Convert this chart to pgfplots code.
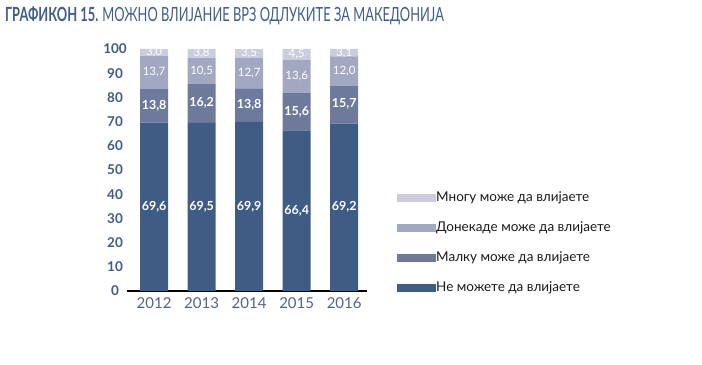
\documentclass[border=0pt]{standalone}
\usepackage{pgfplots}
\pgfplotsset{compat=1.18}
\usepackage{fontspec}
\setmainfont{Lato}
\definecolor{cA}{HTML}{3E5C84}
\definecolor{cB}{HTML}{6D7A9C}
\definecolor{cC}{HTML}{A3A8C2}
\definecolor{cD}{HTML}{CBCCDD}
\definecolor{titleblue}{HTML}{3F5C8A}
\definecolor{ticklab}{HTML}{3E5C84}
\definecolor{xlab}{HTML}{4F6488}
\begin{document}
\begin{tikzpicture}
\path[use as bounding box] (0,0) rectangle (702bp,365bp);
\node[anchor=base west, inner sep=0pt, text=titleblue] at (5bp,343bp)
  {\scalebox{0.66}[1]{\fontsize{19.5bp}{21bp}\selectfont\bfseries ГРАФИКОН 15. \mdseries МОЖНО ВЛИЈАНИЕ ВРЗ ОДЛУКИТЕ ЗА МАКЕДОНИЈА}};
\begin{axis}[
  at={(127bp,74bp)}, anchor=south west,
  scale only axis, width=240bp, height=242bp,
  ybar stacked, bar width=28bp,
  xmin=-0.57, xmax=4.48, ymin=0, ymax=100,
  axis y line=none,
  axis x line*=bottom,
  x axis line style={line width=1.5bp, black, -},
  xtick={0,1,2,3,4},
  xticklabels={2012,2013,2014,2015,2016},
  major tick length=0pt,
  xticklabel style={font=\fontsize{15bp}{17bp}\selectfont, text=xlab, yshift=-3bp},
  legend cell align=left,
  reverse legend,
  legend style={at={(1.125,0.41)}, anchor=north west, draw=none, fill=none,
    inner sep=0pt, row sep=17bp,
    nodes={inner sep=0pt, anchor=west, text height=10bp, text depth=3bp,
      font=\fontsize{13.5bp}{15bp}\selectfont, text=black!90}},
  legend image code/.code={\path (0bp,-4bp) rectangle (39bp,4bp); \fill[#1, draw=none] (0bp,-4bp) rectangle (28bp,4bp);},
]
\addplot[fill=cA, draw=none] coordinates {(0,69.6) (1,69.5) (2,69.9) (3,66.4) (4,69.2)};
\addplot[fill=cB, draw=none] coordinates {(0,13.8) (1,16.2) (2,13.8) (3,15.6) (4,15.7)};
\addplot[fill=cC, draw=none] coordinates {(0,13.7) (1,10.5) (2,12.7) (3,13.6) (4,12.0)};
\addplot[fill=cD, draw=none] coordinates {(0,3.0) (1,3.8) (2,3.5) (3,4.5) (4,3.1)};
\legend{Не можете да влијаете, Малку може да влијаете, Донекаде може да влијаете, Многу може да влијаете}
\end{axis}
\begin{axis}[
  at={(127bp,74bp)}, anchor=south west,
  scale only axis, width=240bp, height=242bp,
  xmin=-0.57, xmax=4.48, ymin=0, ymax=100,
  axis x line=none, axis y line*=left,
  y axis line style={draw=none},
  ytick={0,10,...,100},
  major tick length=0pt,
  /pgf/number format/assume math mode=true,
  yticklabel style={anchor=center, xshift=-12bp, font=\fontsize{13.5bp}{15bp}\selectfont\bfseries, text=ticklab},
  nodes near coords,
  point meta=explicit symbolic,
  every node near coord/.style={anchor=center, text=white, inner sep=0pt},
]
\addplot[draw=none, every node near coord/.append style={font=\fontsize{12.5bp}{14bp}\selectfont\bfseries}] coordinates {(0,34.8)[69,6] (1,34.75)[69,5] (2,34.95)[69,9] (3,33.2)[66,4] (4,34.6)[69,2]};
\addplot[draw=none, every node near coord/.append style={font=\fontsize{12.5bp}{14bp}\selectfont\bfseries}] coordinates {(0,76.5)[13,8] (1,77.6)[16,2] (2,76.8)[13,8] (3,74.2)[15,6] (4,77.15)[15,7]};
\addplot[draw=none, every node near coord/.append style={font=\fontsize{11.5bp}{13bp}\selectfont}] coordinates {(0,90.25)[13,7] (1,90.95)[10,5] (2,90.05)[12,7] (3,88.8)[13,6] (4,90.9)[12,0]};
\addplot[draw=none, every node near coord/.append style={font=\fontsize{11.5bp}{13bp}\selectfont}] coordinates {(0,98.6)[3,0] (1,98.1)[3,8] (2,98.15)[3,5] (3,97.85)[4,5] (4,98.45)[3,1]};
\end{axis}
\end{tikzpicture}
\end{document}
